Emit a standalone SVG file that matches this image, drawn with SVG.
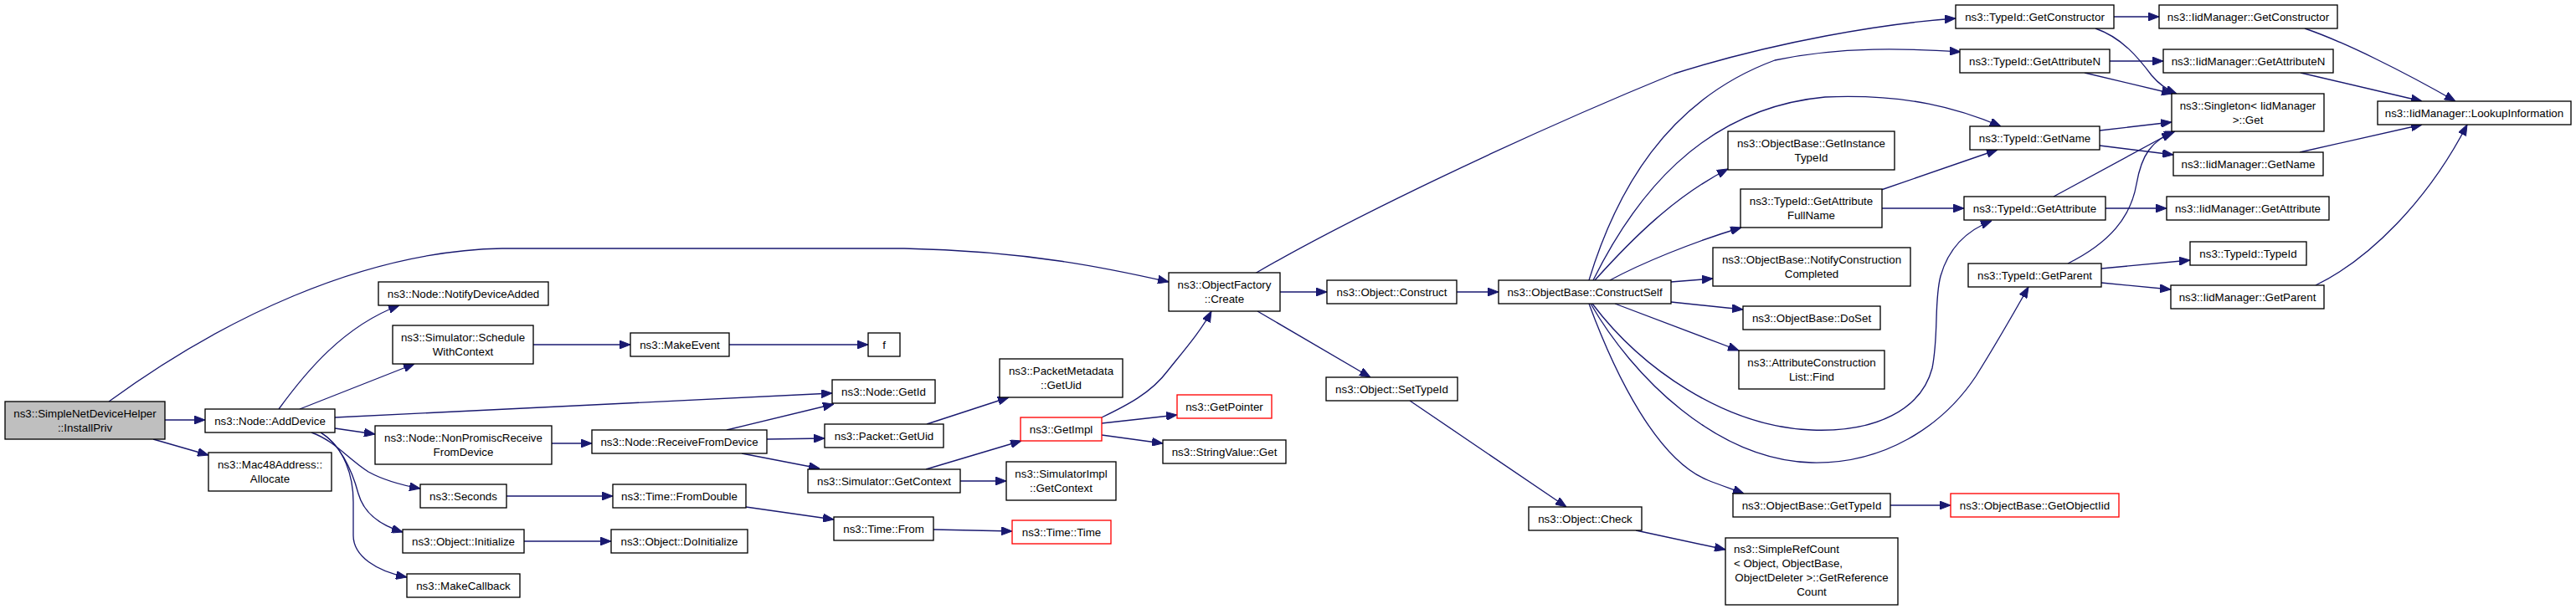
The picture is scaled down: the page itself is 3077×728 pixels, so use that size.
<svg xmlns="http://www.w3.org/2000/svg" width="3077" height="728" viewBox="0 0 3077 728">
<style>
.n rect{fill:#fff;stroke:#000;stroke-width:1.33}
.n.root rect{fill:#bfbfbf}
.n.red rect{stroke:#ff0000}
.n text{font-family:"Liberation Sans",Arial,Helvetica,sans-serif;font-size:13.33px;fill:#000;text-anchor:middle}
.n text.l{text-anchor:start}
#edges path{fill:none;stroke:#191970;stroke-width:1.33;marker-end:url(#ah)}
</style>
<defs>
<marker id="ah" viewBox="0 0 13 10" refX="13" refY="5" markerWidth="13" markerHeight="10" markerUnits="userSpaceOnUse" orient="auto">
<path d="M0,0 L13,5 L0,10 z" fill="#191970" stroke="#191970" stroke-width="1"/>
</marker>
</defs>
<rect width="3077" height="728" fill="#fff"/>
<g id="edges">
<path d="M197,502 L245,502"/>
<path d="M183,525 L249,544"/>
<path d="M130,480 C260,385 430,300 600,297 L1080,297 C1230,300 1330,322 1396,337"/>
<path d="M333,489 C365,445 410,390 477,365"/>
<path d="M358,489 L495,435"/>
<path d="M400,499 L994,470"/>
<path d="M400,512 L448,519"/>
<path d="M372,517 C400,527 415,548 440,564 C460,575 480,580 502,584"/>
<path d="M383,517 C405,530 420,560 428,590 C435,615 455,628 481,636"/>
<path d="M383,517 C412,535 422,570 422,600 L422,640 C422,665 450,683 486,690"/>
<path d="M659,530 L707,530"/>
<path d="M637,412 L753,412"/>
<path d="M871,412 L1037,412"/>
<path d="M868,514 L996,483"/>
<path d="M916,525 L985,524"/>
<path d="M886,542 L979,560"/>
<path d="M605,593 L732,593"/>
<path d="M891,606 L996,621"/>
<path d="M1115,633 L1209,635"/>
<path d="M626,647 L730,647"/>
<path d="M1107,507 L1205,475"/>
<path d="M1106,561 L1220,527"/>
<path d="M1147,575 L1202,575"/>
<path d="M1316,506 L1406,496"/>
<path d="M1316,520 L1389,530"/>
<path d="M1316,499 C1345,485 1375,470 1395,443 C1415,418 1435,395 1447,372"/>
<path d="M1529,349 L1585,349"/>
<path d="M1502,372 L1637,451"/>
<path d="M1499,327 C1600,268 1800,170 2000,88 C2120,50 2250,28 2336,22"/>
<path d="M1740,349 L1790,349"/>
<path d="M1684,479 L1871,606"/>
<path d="M1954,634 L2061,657"/>
<path d="M1898,335 C1930,230 1990,120 2120,72 C2200,55 2280,58 2342,62"/>
<path d="M1903,335 C1950,240 2030,130 2180,116 C2280,112 2340,130 2390,151"/>
<path d="M1905,335 C1950,285 2000,235 2064,202"/>
<path d="M1923,335 C1960,315 2020,290 2080,272"/>
<path d="M1996,337 L2046,333"/>
<path d="M1996,361 L2082,370"/>
<path d="M1929,363 L2077,419"/>
<path d="M1902,363 C1960,440 2060,510 2164,514 C2240,517 2295,490 2308,440 C2316,400 2310,360 2318,330 C2328,295 2350,275 2379,264"/>
<path d="M1900,363 C1950,450 2050,550 2164,553 C2250,555 2320,510 2360,450 C2385,410 2405,375 2423,343"/>
<path d="M1898,363 C1930,450 1980,550 2040,574 C2055,580 2070,585 2083,590"/>
<path d="M2525,20 L2579,20"/>
<path d="M2503,34 C2535,45 2555,70 2570,90 C2580,102 2590,108 2600,112"/>
<path d="M2520,73 L2584,73"/>
<path d="M2490,87 L2595,112"/>
<path d="M2508,156 L2594,146"/>
<path d="M2508,174 L2596,185"/>
<path d="M2453,235 L2595,158"/>
<path d="M2515,249 L2588,249"/>
<path d="M2470,315 C2520,290 2545,260 2552,220 C2558,185 2570,168 2598,157"/>
<path d="M2510,321 L2616,311"/>
<path d="M2510,338 L2593,346"/>
<path d="M2247,227 L2386,179"/>
<path d="M2248,249 L2346,249"/>
<path d="M2753,34 C2800,50 2870,85 2933,121"/>
<path d="M2748,87 L2893,121"/>
<path d="M2747,182 L2893,149"/>
<path d="M2766,341 C2830,310 2900,240 2947,149"/>
<path d="M2258,604 L2330,604"/>
</g>
<g id="installpriv" class="n root"><rect x="6" y="480" width="191" height="45"/><text x="101.5" y="498.5">ns3::SimpleNetDeviceHelper</text><text x="101.5" y="515.5">::InstallPriv</text></g>
<g id="adddevice" class="n"><rect x="245" y="489" width="155" height="28"/><text x="322.5" y="507.5">ns3::Node::AddDevice</text></g>
<g id="mac48allocate" class="n"><rect x="249" y="541" width="147" height="46"/><text x="322.5" y="560">ns3::Mac48Address::</text><text x="322.5" y="577">Allocate</text></g>
<g id="notifydeviceadded" class="n"><rect x="452" y="337" width="203" height="28"/><text x="553.5" y="355.5">ns3::Node::NotifyDeviceAdded</text></g>
<g id="schedulewithcontext" class="n"><rect x="469" y="389" width="168" height="46"/><text x="553" y="408">ns3::Simulator::Schedule</text><text x="553" y="425">WithContext</text></g>
<g id="makeevent" class="n"><rect x="753" y="398" width="118" height="28"/><text x="812" y="416.5">ns3::MakeEvent</text></g>
<g id="f" class="n"><rect x="1037" y="398" width="38" height="28"/><text x="1056" y="416.5">f</text></g>
<g id="nonpromisc" class="n"><rect x="448" y="509" width="211" height="46"/><text x="553.5" y="528">ns3::Node::NonPromiscReceive</text><text x="553.5" y="545">FromDevice</text></g>
<g id="receivefromdevice" class="n"><rect x="707" y="514" width="209" height="28"/><text x="811.5" y="532.5">ns3::Node::ReceiveFromDevice</text></g>
<g id="seconds" class="n"><rect x="502" y="579" width="103" height="28"/><text x="553.5" y="597.5">ns3::Seconds</text></g>
<g id="fromdouble" class="n"><rect x="732" y="579" width="159" height="28"/><text x="811.5" y="597.5">ns3::Time::FromDouble</text></g>
<g id="initialize" class="n"><rect x="481" y="633" width="145" height="28"/><text x="553.5" y="651.5">ns3::Object::Initialize</text></g>
<g id="doinitialize" class="n"><rect x="730" y="633" width="163" height="28"/><text x="811.5" y="651.5">ns3::Object::DoInitialize</text></g>
<g id="makecallback" class="n"><rect x="486" y="686" width="135" height="28"/><text x="553.5" y="704.5">ns3::MakeCallback</text></g>
<g id="nodegetid" class="n"><rect x="994" y="454" width="123" height="28"/><text x="1055.5" y="472.5">ns3::Node::GetId</text></g>
<g id="packetmetadatagetuid" class="n"><rect x="1194" y="429" width="147" height="46"/><text x="1267.5" y="448">ns3::PacketMetadata</text><text x="1267.5" y="465">::GetUid</text></g>
<g id="packetgetuid" class="n"><rect x="985" y="507" width="142" height="28"/><text x="1056" y="525.5">ns3::Packet::GetUid</text></g>
<g id="getimpl" class="n red"><rect x="1219" y="499" width="97" height="28"/><text x="1267.5" y="517.5">ns3::GetImpl</text></g>
<g id="simulatorgetcontext" class="n"><rect x="965" y="561" width="182" height="28"/><text x="1056" y="579.5">ns3::Simulator::GetContext</text></g>
<g id="simulatorimplgetcontext" class="n"><rect x="1202" y="552" width="131" height="46"/><text x="1267.5" y="571">ns3::SimulatorImpl</text><text x="1267.5" y="588">::GetContext</text></g>
<g id="timefrom" class="n"><rect x="996" y="618" width="119" height="28"/><text x="1055.5" y="636.5">ns3::Time::From</text></g>
<g id="timetime" class="n red"><rect x="1209" y="622" width="118" height="28"/><text x="1268" y="640.5">ns3::Time::Time</text></g>
<g id="objectfactorycreate" class="n"><rect x="1396" y="326" width="133" height="46"/><text x="1462.5" y="345">ns3::ObjectFactory</text><text x="1462.5" y="362">::Create</text></g>
<g id="getpointer" class="n red"><rect x="1406" y="472" width="113" height="28"/><text x="1462.5" y="490.5">ns3::GetPointer</text></g>
<g id="stringvalueget" class="n"><rect x="1389" y="526" width="147" height="28"/><text x="1462.5" y="544.5">ns3::StringValue::Get</text></g>
<g id="objectconstruct" class="n"><rect x="1585" y="335" width="155" height="28"/><text x="1662.5" y="353.5">ns3::Object::Construct</text></g>
<g id="constructself" class="n"><rect x="1790" y="335" width="206" height="28"/><text x="1893" y="353.5">ns3::ObjectBase::ConstructSelf</text></g>
<g id="settypeid" class="n"><rect x="1584" y="451" width="157" height="28"/><text x="1662.5" y="469.5">ns3::Object::SetTypeId</text></g>
<g id="objectcheck" class="n"><rect x="1826" y="606" width="135" height="28"/><text x="1893.5" y="624.5">ns3::Object::Check</text></g>
<g id="getinstancetypeid" class="n"><rect x="2064" y="157" width="199" height="46"/><text x="2163.5" y="176">ns3::ObjectBase::GetInstance</text><text x="2163.5" y="193">TypeId</text></g>
<g id="getattributefullname" class="n"><rect x="2079" y="226" width="169" height="46"/><text x="2163.5" y="245">ns3::TypeId::GetAttribute</text><text x="2163.5" y="262">FullName</text></g>
<g id="notifyconstructioncompleted" class="n"><rect x="2046" y="296" width="236" height="46"/><text x="2164" y="315">ns3::ObjectBase::NotifyConstruction</text><text x="2164" y="332">Completed</text></g>
<g id="doset" class="n"><rect x="2082" y="366" width="164" height="28"/><text x="2164" y="384.5">ns3::ObjectBase::DoSet</text></g>
<g id="attrconstructionlistfind" class="n"><rect x="2077" y="419" width="174" height="46"/><text x="2164" y="438">ns3::AttributeConstruction</text><text x="2164" y="455">List::Find</text></g>
<g id="objectbasegettypeid" class="n"><rect x="2070" y="590" width="188" height="28"/><text x="2164" y="608.5">ns3::ObjectBase::GetTypeId</text></g>
<g id="getobjectiid" class="n red"><rect x="2330" y="590" width="201" height="28"/><text x="2430.5" y="608.5">ns3::ObjectBase::GetObjectIid</text></g>
<g id="simplerefcount" class="n"><rect x="2061" y="643" width="206" height="80"/><text class="l" x="2071" y="661">ns3::SimpleRefCount</text><text class="l" x="2071" y="678">&lt; Object, ObjectBase,</text><text x="2164" y="695">ObjectDeleter &gt;::GetReference</text><text x="2164" y="712">Count</text></g>
<g id="typeidgetconstructor" class="n"><rect x="2336" y="6" width="189" height="28"/><text x="2430.5" y="24.5">ns3::TypeId::GetConstructor</text></g>
<g id="typeidgetattributen" class="n"><rect x="2341" y="59" width="179" height="28"/><text x="2430.5" y="77.5">ns3::TypeId::GetAttributeN</text></g>
<g id="typeidgetname" class="n"><rect x="2353" y="151" width="155" height="28"/><text x="2430.5" y="169.5">ns3::TypeId::GetName</text></g>
<g id="typeidgetattribute" class="n"><rect x="2346" y="235" width="169" height="28"/><text x="2430.5" y="253.5">ns3::TypeId::GetAttribute</text></g>
<g id="typeidgetparent" class="n"><rect x="2351" y="315" width="159" height="28"/><text x="2430.5" y="333.5">ns3::TypeId::GetParent</text></g>
<g id="iidgetconstructor" class="n"><rect x="2579" y="6" width="213" height="28"/><text x="2685.5" y="24.5">ns3::IidManager::GetConstructor</text></g>
<g id="iidgetattributen" class="n"><rect x="2584" y="59" width="203" height="28"/><text x="2685.5" y="77.5">ns3::IidManager::GetAttributeN</text></g>
<g id="singletonget" class="n"><rect x="2594" y="112" width="182" height="45"/><text x="2685" y="130.5">ns3::Singleton&lt; IidManager</text><text x="2685" y="147.5">&gt;::Get</text></g>
<g id="iidgetname" class="n"><rect x="2596" y="182" width="179" height="28"/><text x="2685.5" y="200.5">ns3::IidManager::GetName</text></g>
<g id="iidgetattribute" class="n"><rect x="2588" y="235" width="194" height="28"/><text x="2685" y="253.5">ns3::IidManager::GetAttribute</text></g>
<g id="typeidtypeid" class="n"><rect x="2616" y="289" width="139" height="28"/><text x="2685.5" y="307.5">ns3::TypeId::TypeId</text></g>
<g id="iidgetparent" class="n"><rect x="2593" y="341" width="183" height="28"/><text x="2684.5" y="359.5">ns3::IidManager::GetParent</text></g>
<g id="iidlookupinformation" class="n"><rect x="2840" y="121" width="231" height="28"/><text x="2955.5" y="139.5">ns3::IidManager::LookupInformation</text></g>
</svg>
